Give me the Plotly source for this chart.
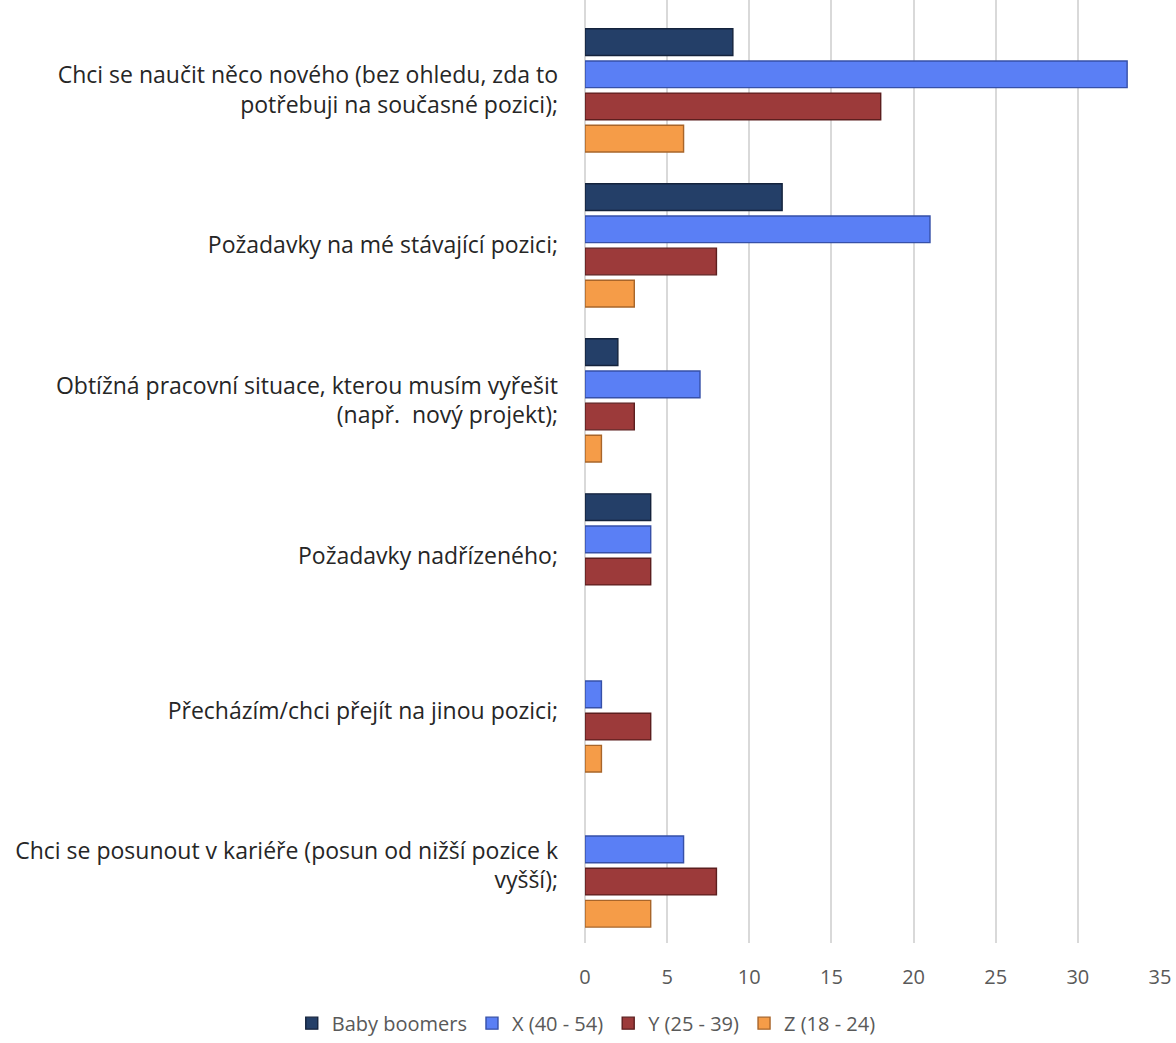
import plotly.graph_objects as go

categories = [
    "Chci se naučit něco nového (bez ohledu, zda to<br>potřebuji na současné pozici);",
    "Požadavky na mé stávající pozici;",
    "Obtížná pracovní situace, kterou musím vyřešit<br>(např.  nový projekt);",
    "Požadavky nadřízeného;",
    "Přecházím/chci přejít na jinou pozici;",
    "Chci se posunout v kariéře (posun od nižší pozice k<br>vyšší);",
]

series_names = ["Baby boomers", "X (40 - 54)", "Y (25 - 39)", "Z (18 - 24)"]
baby_boomers = [9, 12, 2, 4, 0, 0]
gen_x = [33, 21, 7, 4, 1, 6]
gen_y = [18, 8, 3, 4, 4, 8]
gen_z = [6, 3, 1, 0, 1, 4]

x_ticks = [0, 5, 10, 15, 20, 25, 30, 35]

fills = ["#243f68", "#5a7ff5", "#9c3a3a", "#f59c48"]
edges = ["#14233c", "#3650a8", "#5c1e1e", "#a8652a"]

fig = go.Figure()
for name, vals, fc, ec in zip(series_names, [baby_boomers, gen_x, gen_y, gen_z], fills, edges):
    fig.add_trace(go.Bar(
        y=categories, x=vals, name=name, orientation="h",
        marker=dict(color=fc, line=dict(color=ec, width=[1.4 if v else 0 for v in vals])),
    ))

fig.update_layout(
    width=1176, height=1043,
    margin=dict(l=585, r=16, t=0, b=94),
    paper_bgcolor="white", plot_bgcolor="white",
    barmode="group", bargap=0.17, bargroupgap=0.17,
    font=dict(family="Open Sans", color="#595959"),
    showlegend=True,
    legend=dict(orientation="h", xref="paper", x=-0.51, xanchor="left",
                yref="paper", y=-0.085, yanchor="middle",
                font=dict(size=20, color="#595959"),
                traceorder="normal"),
)
fig.update_xaxes(range=[0, 35], tickvals=x_ticks, showgrid=True, gridcolor="#d9d9d9",
                 gridwidth=1.5, zeroline=True, zerolinecolor="#d9d9d9", zerolinewidth=1.5,
                 tickfont=dict(size=20, color="#595959"), ticks="", ticklabelstandoff=20)
fig.update_yaxes(range=[5.5, -0.583], showgrid=False, ticks="",
                 tickfont=dict(size=23, color="#262626"), ticklabelstandoff=26)

fig.write_html("out.html")
